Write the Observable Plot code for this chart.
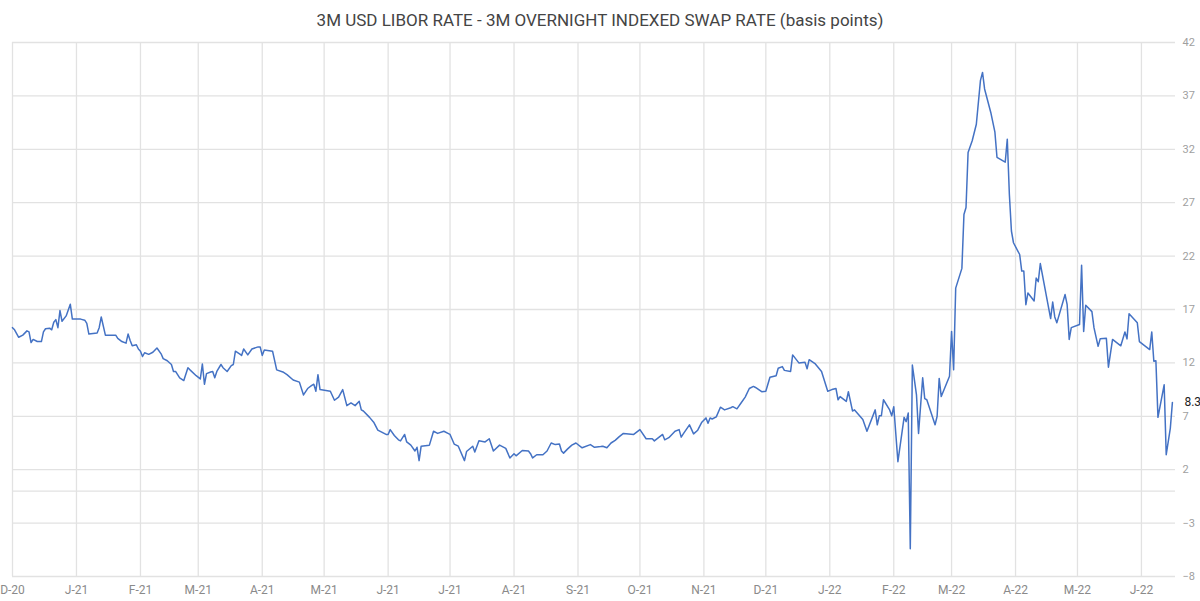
<!DOCTYPE html>
<html><head><meta charset="utf-8">
<script src="https://cdn.jsdelivr.net/npm/d3@7"></script>
<script src="https://cdn.jsdelivr.net/npm/@observablehq/plot@0.6"></script>
<style>
body{margin:0;background:#fff;}
#title{height:36px;box-sizing:border-box;padding-top:10px;text-align:center;font:17px Roboto, sans-serif;color:#444;line-height:20px;white-space:nowrap;}
#chart svg{display:block;}
</style></head><body>
<div id="title">3M USD LIBOR RATE - 3M OVERNIGHT INDEXED SWAP RATE (basis points)</div>
<div id="chart"></div>
<script>
const startDate = "2020-12-01";
const endDate = "2022-06-17T12:00:00Z";
// business-day observations, as days since startDate
const dayOffsets = [
0,1,3,5,7,8,9,10,12,14,15,16,18,19,20,21,22,23,24,26,28,29,33,35,36,37,41,42,43,45,
47,50,51,53,55,56,57,58,60,61,62,63,64,66,68,70,72,73,75,77,78,79,81,83,85,86,89,91,92,93,
94,96,97,98,99,101,102,104,106,107,108,110,111,112,114,116,119,120,121,122,126,128,131,133,136,
139,141,143,145,146,147,148,149,154,156,158,160,162,164,166,168,169,170,173,175,
177,181,182,183,185,187,188,190,191,193,195,196,197,198,202,204,206,209,211,212,
214,216,219,220,223,224,226,229,231,233,236,239,241,243,244,247,250,251,252,254,
257,259,261,263,265,266,267,269,271,273,276,280,282,
285,286,288,290,292,294,296,301,304,307,310,311,315,316,318,321,323,324,325,328,
330,332,334,336,337,338,339,341,343,345,348,349,351,353,355,357,359,360,363,365,
367,370,371,373,374,377,378,381,384,385,386,389,392,395,397,399,400,401,404,405,
407,408,412,414,418,419,420,421,422,425,426,427,429,432,433,434,435,436,438,439,
441,442,443,447,448,449,450,454,455,456,457,460,461,462,463,465,467,469,470,471,
474,476,477,481,482,483,484,485,488,489,490,491,492,495,496,497,498,503,504,505,
506,510,511,512,513,517,518,519,520,523,524,526,527,530,531,533,537,539,540,541,
545,546,551,552,553,554,555,558,559,561,562
];
// 3M LIBOR - 3M OIS spread, basis points
const spreadBp = [
15.3,15.1,14.4,14.6,15.0,14.9,13.9,14.2,14.0,14.0,14.9,15.2,15.25,15.1,15.8,16.05,15.3,16.9,15.9,16.4,17.5,16.1,16.1,16.0,15.7,14.7,14.8,15.3,16.3,14.6,
14.6,14.6,14.3,14.0,13.85,14.7,14.1,13.6,13.7,13.3,13.1,12.6,12.95,12.8,13.0,13.4,12.85,12.4,12.2,11.85,11.2,11.2,10.6,10.35,11.55,11.35,10.8,10.5,11.9,10.0,
11.0,11.15,11.2,10.6,11.2,11.85,11.55,11.2,11.75,11.85,13.1,12.85,12.7,13.3,12.75,13.3,13.5,13.5,12.7,13.2,13.1,11.35,11.15,10.9,10.4,
10.2,9.0,9.6,9.9,10.0,9.35,10.9,9.5,9.35,8.5,8.8,9.5,8.0,8.25,8.0,8.4,7.6,7.5,6.9,6.45,
5.7,5.3,5.3,5.75,5.2,4.8,4.7,5.3,4.6,4.3,3.75,4.1,2.85,4.2,4.3,5.6,5.4,5.6,5.4,5.3,
4.4,4.2,2.85,3.7,4.2,3.65,4.7,4.6,4.9,3.75,4.3,4.0,3.1,3.5,3.3,3.8,3.75,3.5,3.1,3.4,
3.4,3.75,4.5,4.35,4.4,3.75,3.55,3.95,4.3,4.5,4.05,4.35,4.1,
4.17,4.2,4.05,4.5,4.75,5.1,5.4,5.3,5.75,4.9,4.9,4.7,5.3,4.8,5.0,5.6,5.75,5.05,5.35,6.2,
5.35,5.7,6.45,6.85,6.35,6.85,6.75,6.95,7.85,7.6,7.8,7.9,7.7,8.25,8.8,9.6,9.8,9.7,9.3,9.35,
10.65,10.8,11.5,11.65,11.3,11.2,12.75,12.0,12.05,11.45,12.3,11.9,11.2,9.35,9.5,9.6,8.55,8.85,8.4,9.3,
7.5,7.6,6.7,5.6,7.6,6.2,7.05,7.05,8.55,7.6,7.05,7.9,2.75,6.9,6.5,7.3,-5.4,11.8,9.0,5.4,
10.6,8.65,8.55,6.2,7.0,10.55,8.85,10.75,14.95,11.35,19.0,20.85,25.9,26.55,31.7,32.8,34.35,38.45,39.2,37.65,
35.45,33.6,31.25,30.8,32.95,27.8,24.35,23.25,22.15,20.6,20.6,17.45,18.55,17.8,19.95,19.6,21.3,16.15,17.7,16.3,
15.75,18.4,17.45,14.2,15.3,15.6,21.15,14.95,17.4,16.8,15.3,13.55,14.25,14.3,11.6,14.2,13.6,14.9,14.25,16.6,
15.75,14.0,13.25,14.9,12.15,12.2,6.9,9.95,3.4,5.9,8.3
];
const yTicks = [-8,-3,2,7,12,17,22,27,32,37,42];
const monthTicks = ["2020-12-01","2021-01-01","2021-02-01","2021-03-01","2021-04-01","2021-05-01","2021-06-01","2021-07-01","2021-08-01","2021-09-01","2021-10-01","2021-11-01","2021-12-01","2022-01-01","2022-02-01","2022-03-01","2022-04-01","2022-05-01","2022-06-01"];
const monthLabels = ["D-20","J-21","F-21","M-21","A-21","M-21","J-21","J-21","A-21","S-21","O-21","N-21","D-21","J-22","F-22","M-22","A-22","M-22","J-22"];

const start = new Date(startDate);
const data = dayOffsets.map((d, i) => ({date: d3.utcDay.offset(start, d), value: spreadBp[i]}));
const monthDates = monthTicks.map(s => new Date(s));
const labelMap = new Map(monthDates.map((d, i) => [+d, monthLabels[i]]));
const last = data[data.length - 1];
const grid = "#e2e2e2";

const chart = Plot.plot({
  width: 1200, height: 565,
  marginTop: 6, marginBottom: 25, marginLeft: 12, marginRight: 25,
  x: {type: "utc", domain: [start, new Date(endDate)], label: null},
  y: {domain: [-8, 42], label: null},
  style: {fontFamily: "Roboto, sans-serif", background: "#fff"},
  marks: [
    Plot.gridX(monthDates, {stroke: grid, strokeOpacity: 1, strokeWidth: 1.3}),
    Plot.gridY(yTicks, {stroke: grid, strokeOpacity: 1, strokeWidth: 1.3}),
    Plot.ruleY([0], {stroke: grid, strokeWidth: 1.3}),
    Plot.axisX(monthDates, {tickSize: 0, tickPadding: 9, tickFormat: d => labelMap.get(+d), color: "#8a8a8a", fontSize: 12, label: null}),
    Plot.axisY(yTicks, {anchor: "right", tickSize: 0, tickPadding: 7, color: "#a0a0a0", fontSize: 11, label: null}),
    Plot.lineY(data, {x: "date", y: "value", stroke: "#4472C4", strokeWidth: 1.5}),
    Plot.text([last], {x: "date", y: "value", text: d => d.value.toFixed(1), dx: 12, textAnchor: "start", fill: "#222", fontSize: 12})
  ]
});
document.getElementById("chart").appendChild(chart);
</script>
</body></html>
